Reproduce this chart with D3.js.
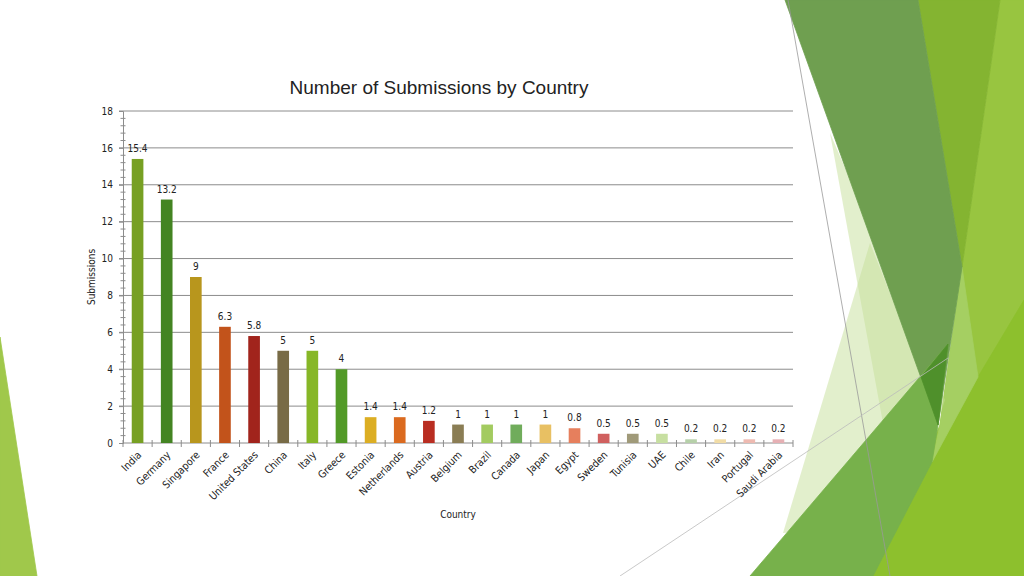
<!DOCTYPE html>
<html>
<head>
<meta charset="utf-8">
<script src="https://cdn.jsdelivr.net/npm/d3@7"></script>
<style>
  body { margin: 0; background: #fff; }
  svg { display: block; }
  text { font-family: "DejaVu Sans Condensed", "DejaVu Sans", sans-serif; font-stretch: condensed; fill: #222; }
</style>
</head>
<body>
<svg id="chart" width="1024" height="576"></svg>
<script>
// chart data
const countries = ['India', 'Germany', 'Singapore', 'France', 'United States', 'China', 'Italy', 'Greece',
  'Estonia', 'Netherlands', 'Austria', 'Belgium', 'Brazil', 'Canada', 'Japan', 'Egypt', 'Sweden',
  'Tunisia', 'UAE', 'Chile', 'Iran', 'Portugal', 'Saudi Arabia'];
const submissions = [15.4, 13.2, 9, 6.3, 5.8, 5, 5, 4, 1.4, 1.4, 1.2, 1, 1, 1, 1, 0.8, 0.5, 0.5, 0.5, 0.2, 0.2, 0.2, 0.2];
const barColors = ['#77a023', '#438422', '#b8961d', '#c2531b', '#a1241c', '#786b46', '#87b727', '#529a27',
  '#dcae23', '#db6a1f', '#b92d21', '#8a7d54', '#a3cb60', '#70ac5b', '#e8c063', '#e67f5d', '#d0605f',
  '#a09a79', '#c7dfa1', '#b6d0a9', '#f1dca6', '#eebab1', '#e6b0b4'];
const yTicks = [0, 2, 4, 6, 8, 10, 12, 14, 16, 18];

const svg = d3.select('#chart');

// slide background (theme decoration)
const deco = [
  { fill: '#a0c84b', pts: [[0, 337], [37, 576], [0, 576]] },
  { fill: '#98c540', pts: [[1000, 0], [1024, 0], [1024, 576], [873, 576], [940, 425], [962, 267]] },
  { fill: '#8dc02d', pts: [[870, 576], [1024, 576], [1024, 300], [978, 377], [932, 462]] },
  { fill: '#a5cf62', pts: [[962, 267], [978, 377], [932, 462], [940, 425]] },
  { fill: '#c5e09a', op: 0.5, pts: [[830, 133], [945, 400], [912, 500], [897, 500]] },
  { fill: '#c5e09a', op: 0.5, pts: [[870, 243], [940, 420], [900, 520], [783, 533]] },
  { fill: '#84b431', pts: [[918, 0], [1000, 0], [962, 267]] },
  { fill: '#6f9f50', pts: [[785, 0], [918, 0], [962, 267], [938, 425]] },
  { fill: '#77b14b', pts: [[750, 576], [948, 344], [938, 425], [932, 462], [873, 576]] },
  { fill: '#4f902b', pts: [[921, 377], [948, 344], [938, 425]] }
];
svg.append('g').selectAll('polygon')
  .data(deco)
  .enter()
  .append('polygon')
  .attr('points', d => d.pts.map(p => p.join(',')).join(' '))
  .attr('fill', d => d.fill)
  .attr('stroke', d => d.op ? 'none' : d.fill)
  .attr('stroke-width', 0.8)
  .attr('fill-opacity', d => d.op || 1);

svg.append('line').attr('x1', 788).attr('y1', 0).attr('x2', 890).attr('y2', 576)
  .attr('stroke', '#999').attr('stroke-width', 0.8);
svg.append('line').attr('x1', 620).attr('y1', 576).attr('x2', 948).attr('y2', 358)
  .attr('stroke', '#bbb').attr('stroke-width', 0.8);

// chart area
const margin = { top: 111, right: 231, bottom: 133, left: 123 };
const width = 1024 - margin.left - margin.right;
const height = 576 - margin.top - margin.bottom;

const g = svg.append('g')
  .attr('transform', `translate(${margin.left}, ${margin.top})`);

const xScale = d3.scaleBand()
  .domain(countries)
  .range([0, width])
  .padding(0);

const yScale = d3.scaleLinear()
  .domain([0, 18])
  .range([height, 0]);

// gridlines
g.append('g')
  .selectAll('line')
  .data(yTicks.slice(1))
  .enter()
  .append('line')
  .attr('x1', -4)
  .attr('x2', width)
  .attr('y1', d => yScale(d))
  .attr('y2', d => yScale(d))
  .attr('stroke', '#8c8c8c')
  .attr('stroke-width', 1);

// y axis
const yAxis = d3.axisLeft(yScale).tickValues(yTicks).tickSize(4).tickPadding(6);
const yG = g.append('g').call(yAxis);
yG.attr('font-family', null);
yG.select('.domain').attr('stroke', '#8c8c8c');
yG.selectAll('.tick line').attr('stroke', '#8c8c8c');
yG.selectAll('.tick text').style('font-size', '10px').attr('fill', '#222');

// y minor ticks
const minor = d3.range(0, 18.01, 0.4).filter(v => Math.abs(v / 2 - Math.round(v / 2)) > 0.01);
g.append('g')
  .selectAll('line')
  .data(minor)
  .enter()
  .append('line')
  .attr('x1', -2.5)
  .attr('x2', 2.5)
  .attr('y1', d => yScale(d))
  .attr('y2', d => yScale(d))
  .attr('stroke', '#8c8c8c');

// x axis
g.append('line')
  .attr('x1', 0).attr('x2', width)
  .attr('y1', height).attr('y2', height)
  .attr('stroke', '#8c8c8c');

g.append('g')
  .selectAll('line')
  .data(countries.concat(['end']))
  .enter()
  .append('line')
  .attr('x1', (d, i) => i * xScale.step())
  .attr('x2', (d, i) => i * xScale.step())
  .attr('y1', height - 3)
  .attr('y2', height + 4)
  .attr('stroke', '#8c8c8c');

// bars
const barW = xScale.step() * 0.4;
g.selectAll('.bar')
  .data(countries)
  .enter()
  .append('rect')
  .attr('class', 'bar')
  .attr('x', d => xScale(d) + xScale.bandwidth() / 2 - barW / 2)
  .attr('y', (d, i) => yScale(submissions[i]))
  .attr('width', barW)
  .attr('height', (d, i) => height - yScale(submissions[i]))
  .attr('fill', (d, i) => barColors[i]);

// value labels
g.selectAll('.val')
  .data(countries)
  .enter()
  .append('text')
  .attr('class', 'val')
  .attr('x', d => xScale(d) + xScale.bandwidth() / 2)
  .attr('y', (d, i) => yScale(submissions[i]) - 7)
  .attr('text-anchor', 'middle')
  .style('font-size', '10px')
  .text((d, i) => submissions[i]);

// category labels
g.selectAll('.cat')
  .data(countries)
  .enter()
  .append('text')
  .attr('class', 'cat')
  .attr('transform', d => `translate(${xScale(d) + xScale.bandwidth() / 2 + 2}, ${height + 10}) rotate(-45)`)
  .attr('text-anchor', 'end')
  .attr('dy', '0.35em')
  .style('font-size', '10.5px')
  .text(d => d);

// axis titles
svg.append('text')
  .attr('transform', 'translate(95, 277) rotate(-90)')
  .attr('text-anchor', 'middle')
  .style('font-size', '10px')
  .text('Submissions');

svg.append('text')
  .attr('x', 458)
  .attr('y', 518)
  .attr('text-anchor', 'middle')
  .style('font-size', '10px')
  .text('Country');

svg.append('text')
  .attr('x', 439)
  .attr('y', 94)
  .attr('text-anchor', 'middle')
  .style('font-family', '"Liberation Sans", Arial, sans-serif')
  .style('font-stretch', 'normal')
  .style('font-size', '19px')
  .text('Number of Submissions by Country');
</script>
</body>
</html>
